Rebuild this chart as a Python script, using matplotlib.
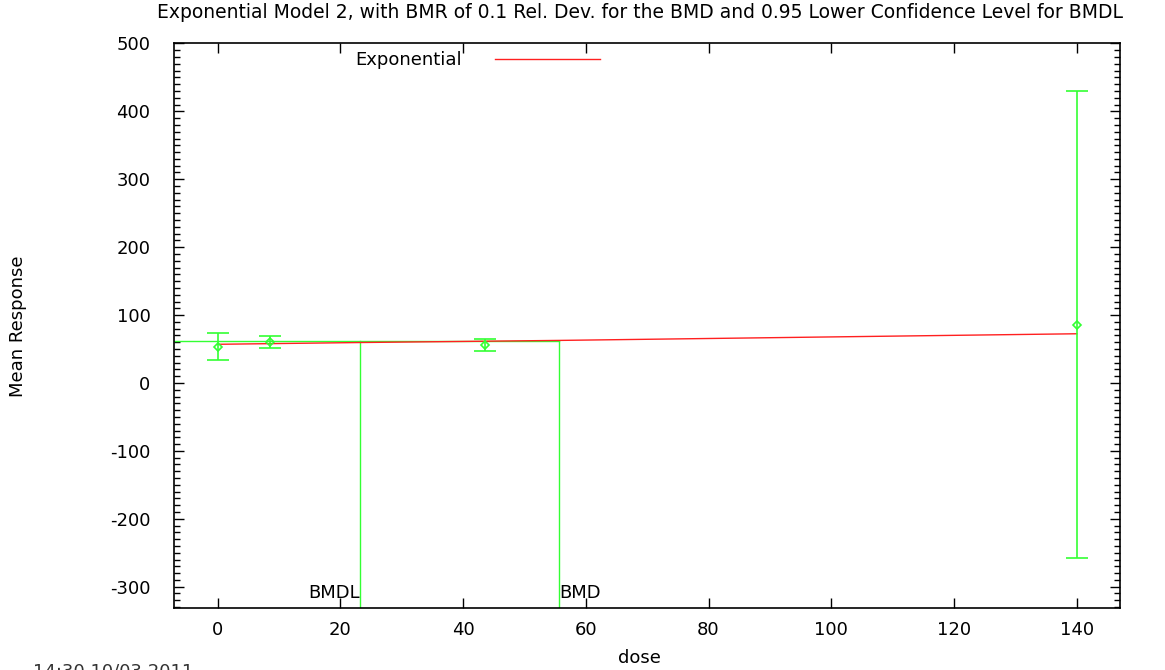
# plot.py
# Exponential model fit with BMD / BMDL markers

import matplotlib
matplotlib.use('Agg')
import matplotlib.pyplot as plt
from matplotlib.ticker import MultipleLocator

# Data
dose = [0, 8.5, 43.5, 140]
meanResp = [53, 61, 56, 85]
errLow = [33.5, 52, 46.7, -258]
errHigh = [73.3, 68.9, 64.4, 430]

fitDose = [0, 23.2, 55.6, 140]
fitResp = [57, 59.6, 62.7, 72.5]

bmdl = 23.2
bmd = 55.6
bmdResp = 62.0

title = 'Exponential Model 2, with BMR of 0.1 Rel. Dev. for the BMD and 0.95 Lower Confidence Level for BMDL'
stamp = '14:30 10/03 2011'

plt.rcParams['font.family'] = ['DejaVu Sans']
plt.rcParams['font.size'] = 13
plt.rcParams['axes.unicode_minus'] = False

green = '#33ff33'
fs = 13
fig = plt.figure(figsize=(11.65, 6.70), dpi=100)
ax = fig.add_axes([0.1494, 0.0921, 0.8120, 0.8430])

xmin, xmax = -7.1, 147.05
ymin, ymax = -331.8, 500

# fitted curve
ax.plot(fitDose, fitResp, color='#ff2020', linewidth=1, label='Exponential', zorder=3)

# observed means with error bars
yerr = [[m - lo for m, lo in zip(meanResp, errLow)], [hi - m for m, hi in zip(meanResp, errHigh)]]
ax.errorbar(dose, meanResp, yerr=yerr, fmt='D', color=green, markersize=4.5, markerfacecolor='none',
            markeredgewidth=1.2, elinewidth=1.2, capsize=8, capthick=1.2, zorder=4)

# BMD / BMDL lines
ax.plot([xmin, bmd], [bmdResp, bmdResp], color=green, linewidth=1, zorder=2)
ax.plot([bmdl, bmdl], [ymin, bmdResp], color=green, linewidth=1, zorder=2)
ax.plot([bmd, bmd], [ymin, bmdResp], color=green, linewidth=1, zorder=2)
ax.text(bmdl, -310, 'BMDL', ha='right', va='center', fontsize=fs)
ax.text(bmd, -310, 'BMD', ha='left', va='center', fontsize=fs)

ax.set_xlim(xmin, xmax)
ax.set_ylim(ymin, ymax)
ax.set_xticks([0, 20, 40, 60, 80, 100, 120, 140])
ax.set_yticks([-300, -200, -100, 0, 100, 200, 300, 400, 500])
ax.yaxis.set_minor_locator(MultipleLocator(10))
ax.tick_params(axis='both', which='major', direction='in', length=7, width=1, top=True, right=True,
               labelsize=fs)
ax.tick_params(axis='x', which='major', pad=9)
ax.tick_params(axis='y', which='major', pad=17)
ax.tick_params(axis='y', which='minor', direction='in', length=4, width=1, left=True, right=True)
for s in ax.spines.values():
    s.set_linewidth(1.2)

ax.set_xlabel('dose', fontsize=fs)
ax.set_ylabel('Mean Response', fontsize=fs)
ax.xaxis.set_label_coords(0.492, -0.072)
ax.yaxis.set_label_coords(-0.155, 0.5)
fig.suptitle(title, x=0.549, y=0.996, fontsize=13.5)

ax.legend(loc='upper left', bbox_to_anchor=(355 / 1165, 1 - 51 / 670), bbox_transform=fig.transFigure,
          frameon=False, markerfirst=False, handlelength=5.8, handletextpad=1.85, borderpad=0,
          borderaxespad=0, fontsize=fs)

fig.text(33 / 1165, 1 - 663 / 670, stamp, va='top', ha='left', fontsize=fs, color='#333333')

plt.savefig('out.png', dpi=100)
